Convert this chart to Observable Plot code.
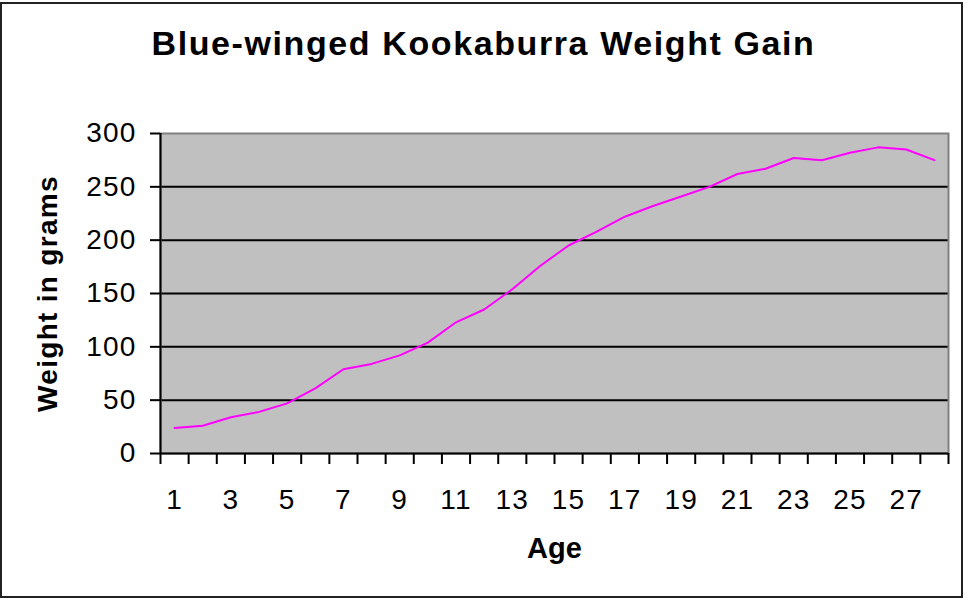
<!DOCTYPE html>
<html>
<head>
<meta charset="utf-8">
<script src="https://cdn.jsdelivr.net/npm/d3@7"></script>
<script src="https://cdn.jsdelivr.net/npm/@observablehq/plot@0.6"></script>
<style>
  html, body { margin: 0; padding: 0; background: #fff; }
  #wrap { position: relative; width: 965px; height: 599px; overflow: hidden; }
  #border { position: absolute; left: 0; top: 2px; width: 963px; height: 596px; box-sizing: border-box; border: 2px solid #222; pointer-events: none; }
  svg { display: block; }
</style>
</head>
<body>
<div id="wrap"><div id="chart"></div><div id="border"></div></div>
<script>
const titleText = "Blue-winged Kookaburra Weight Gain";
const xLabel = "Age";
const yLabel = "Weight in grams";
const ages = [1,2,3,4,5,6,7,8,9,10,11,12,13,14,15,16,17,18,19,20,21,22,23,24,25,26,27,28];
const weights = [24,26,34,39,47,61,79,84,92,104,123,135,154,176,195,208,222,232,241,250,262,267,277,275,282,287,285,275];
const xTickLabels = [1,3,5,7,9,11,13,15,17,19,21,23,25,27];
const yTicks = [0,50,100,150,200,250,300];

const data = ages.map((a, i) => ({age: a, weight: weights[i]}));
const boundaries = [ages[0] - 0.5, ...ages.map(a => a + 0.5)];
const gridLines = yTicks.filter(v => v > 0 && v < 300);

const font = "'Liberation Sans', Arial, sans-serif";

const chart = Plot.plot({
  width: 965,
  height: 599,
  marginLeft: 160,
  marginRight: 17,
  marginTop: 133,
  marginBottom: 146,
  style: {fontFamily: font, background: "transparent", color: "#000"},
  x: {domain: [0.5, 28.5], axis: null},
  y: {domain: [0, 300], axis: null},
  marks: [
    Plot.frame({fill: "#c0c0c0", stroke: null}),
    Plot.ruleY(gridLines, {stroke: "#000", strokeWidth: 2}),
    Plot.frame({stroke: "#808080", strokeWidth: 2}),
    Plot.ruleY([0], {stroke: "#000", strokeWidth: 2}),
    Plot.ruleX([0.5], {stroke: "#000", strokeWidth: 2}),
    Plot.axisX({ticks: boundaries, tickSize: 11, tickFormat: () => "", label: null, strokeWidth: 2, stroke: "#000"}),
    Plot.axisX({ticks: xTickLabels, tickSize: 0, tickPadding: 36, fontSize: 28, label: null, fill: "#000"}),
    Plot.axisY({ticks: yTicks, tickSize: 10, tickPadding: 14, fontSize: 28, label: null, strokeWidth: 2, stroke: "#000", fill: "#000"}),
    Plot.line(data, {x: "age", y: "weight", stroke: "#ff00ff", strokeWidth: 2}),
    Plot.text([yLabel], {text: d => d, frameAnchor: "left", dx: -112.5, rotate: -90, textAnchor: "middle", lineAnchor: "middle", fontSize: 28, fontWeight: "bold", fill: "#000"}),
    Plot.text([xLabel], {text: d => d, frameAnchor: "bottom", dy: 95.5, textAnchor: "middle", lineAnchor: "middle", fontSize: 29, fontWeight: "bold", fill: "#000"}),
    Plot.text([titleText], {text: d => d, frameAnchor: "top", dy: -89.7, dx: -71, textAnchor: "middle", lineAnchor: "middle", fontSize: 34, fontWeight: "bold", fill: "#000"})
  ]
});

document.getElementById("chart").appendChild(chart);

const svg = d3.select(chart);
svg.selectAll('g[aria-label="x-axis tick label"] text, g[aria-label="y-axis tick label"] text').style("letter-spacing", "1.2px");
svg.selectAll('g[aria-label="text"] text').each(function() {
  const t = this.textContent;
  if (t === titleText) this.style.letterSpacing = "1.6px";
  if (t === yLabel) this.style.letterSpacing = "1.3px";
});
</script>
</body>
</html>
